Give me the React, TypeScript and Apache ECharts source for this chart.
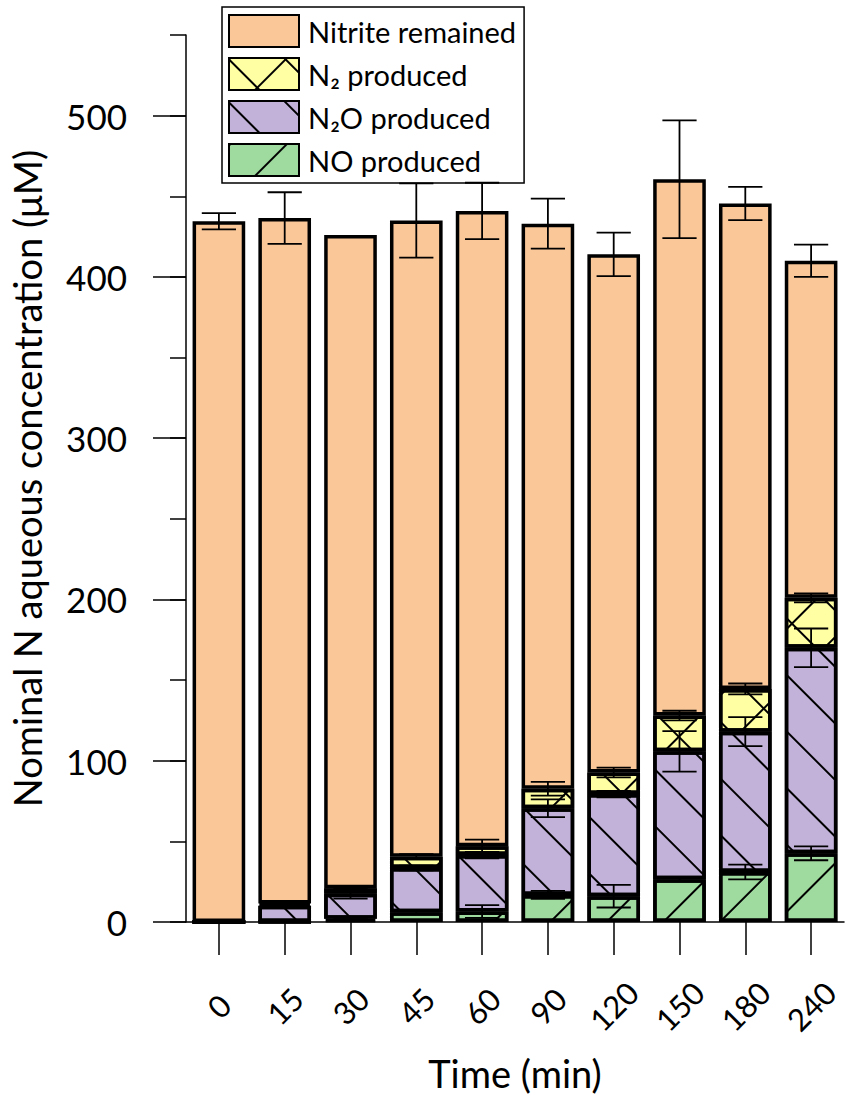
import React, { useEffect, useRef } from "react";
import * as echarts from "echarts";

const categories = ["0", "15", "30", "45", "60", "90", "120", "150", "180", "240"];

// segment values (µM), stacked bottom → top
const noProduced = [0, 0, 2, 6, 6.5, 16.8, 16, 26.5, 31, 42.6];
const n2oProduced = [0, 10, 15.5, 27.5, 35, 53.7, 63.3, 79.3, 87, 127.4];
const n2Produced = [0, 1.5, 3.5, 7, 5.4, 12.1, 13.4, 22.2, 26.5, 31];
const nitriteRemained = [434.5, 425, 405, 394.5, 394, 350.4, 321.3, 332.5, 301, 209];

// error (±) at the top of each cumulative layer
const noErr = [0, 0, 0.5, 1, 4, 2.5, 7, 1, 4.6, 4.3];
const n2oErr = [0, 1, 3, 1.5, 2, 5.5, 2, 12.5, 9, 12];
const n2Err = [0, 1, 1, 1.5, 4.2, 4.3, 3, 3, 3.4, 2.8];
const nitriteErr = [5, 16, 0, 23, 17.5, 15.5, 13.5, 36.5, 10.3, 10];

const yMajorTicks = [0, 100, 200, 300, 400, 500];

const FONT = "Lato, 'Open Sans', sans-serif";

export default function App() {
  const ref = useRef<HTMLDivElement>(null);

  useEffect(() => {
    document.body.style.margin = "0";
    const chart = echarts.init(ref.current!, undefined, { renderer: "svg" });

    const errData: number[][] = [];
    categories.forEach((_, i) => {
      const c1 = noProduced[i];
      const c2 = c1 + n2oProduced[i];
      const c3 = c2 + n2Produced[i];
      const c4 = c3 + nitriteRemained[i];
      if (noErr[i] > 0) errData.push([i, c1, noErr[i]]);
      if (n2oErr[i] > 0) errData.push([i, c2, n2oErr[i]]);
      if (n2Err[i] > 0) errData.push([i, c3, n2Err[i]]);
      if (nitriteErr[i] > 0) errData.push([i, c4, nitriteErr[i]]);
    });

    const border = { borderColor: "#000", borderWidth: 3.5 };

    const option: any = {
      animation: false,
      textStyle: { fontFamily: FONT },
      grid: { left: 184, right: 7, top: 35, bottom: 181, containLabel: false },
      legend: {
        orient: "vertical",
        left: 222,
        top: 7,
        icon: "rect",
        itemWidth: 70,
        itemHeight: 32,
        itemGap: 9,
        padding: [7, 8, 6, 6],
        borderColor: "#000",
        borderWidth: 1.5,
        backgroundColor: "#fff",
        data: ["Nitrite remained", "N₂ produced", "N₂O produced", "NO produced"],
        textStyle: { fontSize: 29, color: "#000", fontFamily: FONT, padding: [0, 0, 0, 4] },
      },
      xAxis: {
        type: "category",
        data: categories,
        boundaryGap: true,
        name: "Time (min)",
        nameLocation: "middle",
        nameGap: 132,
        nameTextStyle: { fontSize: 38, color: "#000", fontFamily: FONT },
        axisLine: { show: true, lineStyle: { color: "#000", width: 1.5 } },
        axisTick: { show: true, alignWithLabel: true, length: 33, lineStyle: { color: "#000", width: 1.5 } },
        axisLabel: {
          rotate: 45,
          margin: 84,
          align: "center",
          verticalAlign: "middle",
          fontSize: 31,
          color: "#000",
          fontFamily: FONT,
        },
        splitLine: { show: false },
      },
      yAxis: [
        {
          type: "value",
          min: 0,
          max: 550,
          interval: 50,
          name: "Nominal N aqueous concentration (μM)",
          nameLocation: "middle",
          nameGap: 140,
          nameTextStyle: { fontSize: 38, color: "#000", fontFamily: FONT },
          axisLine: { show: true, lineStyle: { color: "#000", width: 1.5 } },
          axisTick: { show: true, length: 16, lineStyle: { color: "#000", width: 1.5 } },
          axisLabel: {
            customValues: yMajorTicks,
            margin: 59,
            fontSize: 35,
            color: "#000",
            fontFamily: FONT,
          },
          splitLine: { show: false },
        },
        {
          type: "value",
          min: 0,
          max: 550,
          interval: 50,
          position: "left",
          axisLine: { show: false },
          axisTick: { show: true, customValues: yMajorTicks, length: 33, lineStyle: { color: "#000", width: 1.5 } },
          axisLabel: { show: false },
          splitLine: { show: false },
        },
      ],
      series: [
        {
          name: "NO produced",
          type: "bar",
          stack: "total",
          barCategoryGap: "20%",
          data: noProduced,
          itemStyle: {
            color: "#9FDA9F",
            ...border,
            decal: {
              symbol: "rect",
              symbolSize: 1,
              color: "#000",
              dashArrayX: [1, 0],
              dashArrayY: [2, 38],
              rotation: -Math.PI / 4,
            },
          },
        },
        {
          name: "N₂O produced",
          type: "bar",
          stack: "total",
          data: n2oProduced,
          itemStyle: {
            color: "#C2B2D9",
            ...border,
            decal: {
              symbol: "rect",
              symbolSize: 1,
              color: "#000",
              dashArrayX: [1, 0],
              dashArrayY: [2, 38],
              rotation: Math.PI / 4,
            },
          },
        },
        {
          name: "N₂ produced",
          type: "bar",
          stack: "total",
          data: n2Produced,
          itemStyle: {
            color: "#FFFFA3",
            ...border,
            decal: {
              symbol: "rect",
              symbolSize: 1,
              color: "#000",
              dashArrayX: [[1, 0], [2, 38]],
              dashArrayY: [2, 0, 38, 0],
              rotation: Math.PI / 4,
            },
          },
        },
        {
          name: "Nitrite remained",
          type: "bar",
          stack: "total",
          data: nitriteRemained,
          itemStyle: { color: "#FAC799", ...border },
        },
        {
          name: "errors",
          type: "custom",
          z: 10,
          silent: true,
          data: errData,
          encode: { x: 0, y: 1 },
          renderItem: (params: any, api: any) => {
            const x = api.value(0);
            const y = api.value(1);
            const e = api.value(2);
            const top = api.coord([x, y + e]);
            const bot = api.coord([x, y - e]);
            const half = api.size([1, 0])[0] * 0.26;
            const style = { stroke: "#000", lineWidth: 1.8 };
            return {
              type: "group",
              children: [
                { type: "line", shape: { x1: top[0], y1: top[1], x2: bot[0], y2: bot[1] }, style },
                { type: "line", shape: { x1: top[0] - half, y1: top[1], x2: top[0] + half, y2: top[1] }, style },
                { type: "line", shape: { x1: bot[0] - half, y1: bot[1], x2: bot[0] + half, y2: bot[1] }, style },
              ],
            };
          },
        },
      ],
    };

    chart.setOption(option);
    return () => chart.dispose();
  }, []);

  return <div ref={ref} style={{ width: 851, height: 1103 }} />;
}
